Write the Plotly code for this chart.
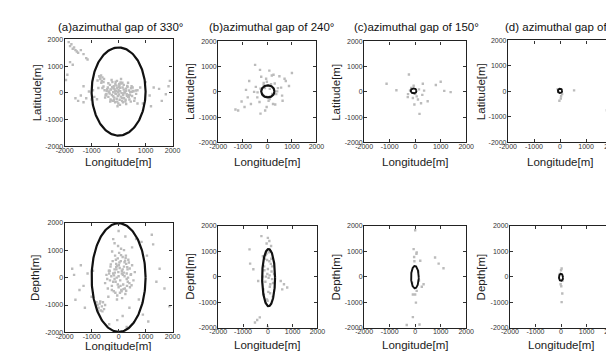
import numpy as np
import plotly.graph_objects as go

# ---------------- data (metres) ----------------
titles = ["(a)azimuthal gap of 330°", "(b)azimuthal gap of 240°",
          "(c)azimuthal gap of 150°", "(d) azimuthal gap of 30°"]
y_titles_top = ["Latitude[m]"] * 4
y_titles_bottom = ["Depth[m]"] * 4
x_title = "Longitude[m]"
tick_values = [-2000, -1000, 0, 1000, 2000]
tick_labels = ["-2000", "-1000", "0", "1000", "2000"]

# (a) Latitude vs Longitude
a_top_x = [-520, -450, -400, -380, -350, -320, -300, -280, -250, -230, -210, -200, -180, -160, -150, -130,
           -120, -100, -90, -70, -60, -50, -30, -20, -10, 0, 10, 30, 40, 60, 80, 100, 110, 130, 150, 170,
           190, 200, 220, 250, 270, 300, 320, 350, 380, 400, 430, 460, 500, 550, 600, 650, -600, -480, -260,
           -40, 140, 280, 480, 700, -330, -140, 60, 240, 420, -200, 20, 180, 350, -420,
           -560, -500, -440, -380, -310, -240, -170, -110, -50, 10, 70, 130, 190, 260, 330, 390, 450, 520,
           580, 640, -470, -360, -270, -190, -80, 50, 160, 270, 380, 490, -300, -120, 90, 310, 540,
           -800, -750, -700, -680, -650, -620, -600, -560, -540, -720, -780, -640,
           -1950, -1900, -1850, -1800, -1750, -1700, -1650, -1600, -1550, -1500, -1400, -1300, -1200, -1150,
           -1800, -1700, -1600, -1500, -1400, -1300, -1200, -1100, -1000, -950, -900, -1300,
           900, 1000, 1150, 1300, 1500, 1750, 1850, 1900, 800, 1200, 700, 1600]
a_top_y = [100, -50, 200, -150, 50, 300, -250, 120, -80, 400, -300, 20, 250, -180, 150, -350,
           320, -40, 80, -220, 450, 180, -120, 20, -400, 110, -60, 280, -260, 60, -140, 350, -10, -300, 200, -80,
           120, -200, 40, -330, 160, -50, 260, -150, 90, -250, 30, 170, -120, 60, -200, -40, 180, -100, 480,
           -500, 380, -420, 250, 100, -30, 60, 190, 10, -70, -130, 330, -20, 380, 140,
           240, -180, 70, 360, -330, 210, -260, 410, -330, 230, 390, -190, 300, -260, 220, -90, -330, 200,
           -300, 90, -60, 20, -280, 170, 270, -450, -350, 80, -160, 40, 130, -20, 520, -110, 70, -240, 180,
           600, 520, 650, 450, 580, 400, 520, 620, 460, 380, 480, 680,
           1900, 1750, 1820, 1650, 1700, 1600, 1550, 1500, 1600, 1450, 1300, 1250, 1150, 1050,
           -200, -300, -100, -350, -200, 50, -250, 100, -150, 250, -400, 400,
           -100, 200, 150, -50, 250, 450, 200, -500, -400, -300, 350, -200]

# (a) Depth vs Longitude
a_bot_x = [-500, -450, -400, -360, -320, -300, -270, -250, -220, -200, -180, -150, -130, -110, -90, -70,
           -50, -30, -10, 0, 20, 40, 60, 80, 100, 120, 150, 170, 200, 220, 250, 280, 300, 330, 360, 400,
           450, 500, 550, 600, -380, -240, -60, 90, 230, 380, -150, 10, 160, 310, -20, 130, 270, 50, -100,
           120, 200, -80, 300, 420,
           -420, -330, -250, -170, -90, -30, 30, 110, 190, 260, 340, 410, 480, -290, -140, 70, 240, 350,
           -200, -60, 180, 320, 460, -350, 0, 150, 280, -120, 90, 220,
           -820, -780, -740, -700, -660, -620, -580, -540, -500, -760, -680, -600,
           -1720, -1650, -1600, -1450, -1300, -1150, -1000, -1400, -1250, -950,
           1280, 1520, 1400, 1230, 1880, 900, 1050, 750, 850, 1700, 650, 1100,
           0, -200, 250, 150, -350, 400, 300, -150, 500, -50]
a_bot_y = [-200, 100, -400, 250, -100, 400, 50, -300, 600, 150, -500, 300, 800, -150, 500, 0,
           -650, 700, 200, -350, 900, 350, -100, 600, -450, 150, 750, -250, 400, 50, -600, 500, -50, 300, 650,
           -200, 100, 450, -100, 200, -700, 950, -800, 1050, -400, 550, -50, 450, 100, -300, 1150, -750, 800,
           -550, 650, 250, 1000, 300, 150, -350,
           -50, 250, -450, 80, 380, -250, 550, -500, 180, 720, -150, 330, -280, 480, 180, -300, 620, 0,
           -150, 420, -420, 380, 120, 150, 50, 300, -480, -550, 820, 560,
           -900, -1000, -1100, -950, -1200, -1050, -900, -1150, -1000, -1200, -870, -1230,
           320, 100, -810, -450, -300, 150, -700, 450, -1100, 250,
           1210, 320, -150, 1560, -1050, -1350, 800, -800, 1300, -400, 1400, -1600,
           1700, 1400, 1500, -1400, -1700, -1100, -1800, 1250, 1100, -1550]

# (b) Latitude vs Longitude
b_top_x = [-500, -300, 80, 250, 490, 750, 1000, 880, 560, 360, 100, -160, -410, -670, -930, -1190, -1300,
           -1050, -800, -540, -280, -150, -20, 300, 430, 620, 230, -30, -280, -90, -470, -870, -740, 700,
           -200, -100, 0, 100, 200, 150, -150, 50, -50, 320, -320, 400, -400, 180, -250, 600]
b_top_y = [1070, 870, 840, 680, 620, 430, 750, 230, 170, -90, -280, -150, -220, -480, -600, -740, -700,
           -380, -220, 0, 130, 260, 400, 330, 150, -350, -480, -600, -860, -740, 200, 80, 430, 520,
           -100, 150, -200, 120, -80, 300, 350, -350, 520, -500, -400, 20, -20, 650, 600, -150]

# (b) Depth vs Longitude
b_bot_x = [-260, 0, 60, -50, 130, -740, -715, -585, -390, 520, 650, 780, 580, -325, -430, -520, 0,
           -200, -150, -100, -60, -20, 20, 60, 100, 150, 200, -180, -120, -80, -40, 0, 40, 80, 120, 170,
           -160, -90, -10, 70, 140, 210, -140, -30, 90, 180, 250, -220, 30, 110]
b_bot_y = [1590, 1520, 1400, 1300, 1200, 1070, 510, 290, -170, -170, -300, -430, -500, -1600, -1700,
           -1800, -1980,
           800, 400, -200, 900, 100, -600, 600, -300, 200, -800, -500, 700, 0, -900, 300, 950, -400, 500, -100,
           -700, 850, -950, 50, 700, -250, 250, 650, -650, 400, 100, 0, -50, 1000]

# (c) Latitude vs Longitude
c_top_x = [-1120, -735, -245, 300, 810, 1000, 1140, 1390, -280, -90, 230, 490, -30, 170, -150, 150,
           280, -290, 60, -60, 110, -200, 350, 0]
c_top_y = [320, 65, 690, 320, 270, 400, 40, -10, -90, -240, -450, -370, -500, -870, 160, 100,
           -120, -210, -180, 240, -300, 60, 50, -80]

# (c) Depth vs Longitude
c_bot_x = [0, -60, 60, -40, 200, 780, 920, 1110, 330, 260, 30, -90, -330, 170, 60, -90, 120, -30,
           0, 50, 150, -120]
c_bot_y = [1820, 1080, 950, 770, 620, 750, 510, 330, -300, -400, -1020, -1590, -1900, -1880, -560,
           -700, 200, 600, -700, 900, -150, -250]

# (d) Latitude vs Longitude
d_top_x = [40, -25, 540, 1800, 1850, 80, -90, 30, -60]
d_top_y = [-190, -370, 40, -740, -280, -100, 90, -280, -30]

# (d) Depth vs Longitude
d_bot_x = [25, -15, 50, 25, -50, 60, 0, 10]
d_bot_y = [320, -300, -660, -1000, 100, -150, 250, -380]

scatter_x = [a_top_x, b_top_x, c_top_x, d_top_x, a_bot_x, b_bot_x, c_bot_x, d_bot_x]
scatter_y = [a_top_y, b_top_y, c_top_y, d_top_y, a_bot_y, b_bot_y, c_bot_y, d_bot_y]

# error ellipses: centre and semi-axes (metres)
ellipse_cx = [0, 20, -60, 0, 0, 30, -10, 0]
ellipse_cy = [50, 20, 40, 20, 0, -40, -20, -30]
ellipse_ax = [1000, 270, 115, 85, 1000, 260, 150, 80]
ellipse_ay = [1650, 240, 95, 85, 1980, 1120, 440, 140]

# ---------------- layout (pixel boxes) ----------------
W, H = 614, 351
boxes = [  # x0, x1, y0(top), y1(bottom) in px
    (49, 160, 28, 137), (207, 308, 30, 133), (357, 462, 30, 133), (505, 612, 29, 133),
    (49, 160, 215, 327), (207, 309, 218, 322), (357, 462, 218, 322), (507, 612, 218, 322),
]
title_x = [40, 195, 345, 500]
ytitle_x = [20, 178, 328, 478, 18, 178, 328, 477]
xtitle_y = [153, 153, 153, 153, 341, 340, 340, 340]

fig = go.Figure()
t = np.linspace(0, 2 * np.pi, 200)
for i in range(8):
    xa = "x" if i == 0 else f"x{i+1}"
    ya = "y" if i == 0 else f"y{i+1}"
    fig.add_trace(go.Scatter(x=scatter_x[i], y=scatter_y[i], mode="markers", xaxis=xa, yaxis=ya,
                             marker=dict(symbol="square", size=2.4, color="#bbbbbb",
                                         line=dict(width=0)),
                             showlegend=False, hoverinfo="skip"))
    ex = ellipse_cx[i] + ellipse_ax[i] * np.cos(t)
    ey = ellipse_cy[i] + ellipse_ay[i] * np.sin(t)
    fig.add_trace(go.Scatter(x=ex, y=ey, mode="lines", xaxis=xa, yaxis=ya,
                             line=dict(color="#111111", width=2.2 if i in (0, 1, 4, 5) else 1.9),
                             showlegend=False, hoverinfo="skip"))

axis_common = dict(range=[-2000, 2000], tickvals=tick_values, ticktext=tick_labels,
                   ticks="inside", ticklen=3, tickcolor="#333", showgrid=False, zeroline=False,
                   showline=True, linecolor="#222", linewidth=1.2, mirror="ticks",
                   tickfont=dict(family="Liberation Sans", size=7, color="#333"), fixedrange=True)

annotations = []
for i, (x0, x1, y0, y1) in enumerate(boxes):
    xk = "xaxis" if i == 0 else f"xaxis{i+1}"
    yk = "yaxis" if i == 0 else f"yaxis{i+1}"
    ya = "y" if i == 0 else f"y{i+1}"
    xa = "x" if i == 0 else f"x{i+1}"
    fig.layout[xk] = dict(axis_common, domain=[x0 / W, x1 / W], anchor=ya, ticklabelstandoff=-3)
    fig.layout[yk] = dict(axis_common, domain=[1 - y1 / H, 1 - y0 / H], anchor=xa, ticklabelstandoff=-1)
    annotations.append(dict(text=x_title, x=(x0 + x1) / 2 / W, y=1 - xtitle_y[i] / H, xref="paper",
                            yref="paper", showarrow=False, xanchor="center", yanchor="middle",
                            font=dict(family="Liberation Sans", size=11.5, color="#222")))
    ytxt = y_titles_top[i] if i < 4 else y_titles_bottom[i - 4]
    annotations.append(dict(text=ytxt, x=ytitle_x[i] / W, y=1 - (y0 + y1) / 2 / H, xref="paper",
                            yref="paper", showarrow=False, textangle=-90, xanchor="center",
                            yanchor="middle",
                            font=dict(family="Liberation Sans", size=11.5, color="#222")))
for j in range(4):
    annotations.append(dict(text=titles[j], x=title_x[j] / W, y=1 - 15 / H, xref="paper", yref="paper",
                            showarrow=False, xanchor="left", yanchor="middle",
                            font=dict(family="Liberation Sans", size=11.5, color="#111")))

fig.update_layout(width=W, height=H, margin=dict(l=0, r=0, t=0, b=0),
                  paper_bgcolor="white", plot_bgcolor="white", annotations=annotations)
fig.write_html("out.html")
